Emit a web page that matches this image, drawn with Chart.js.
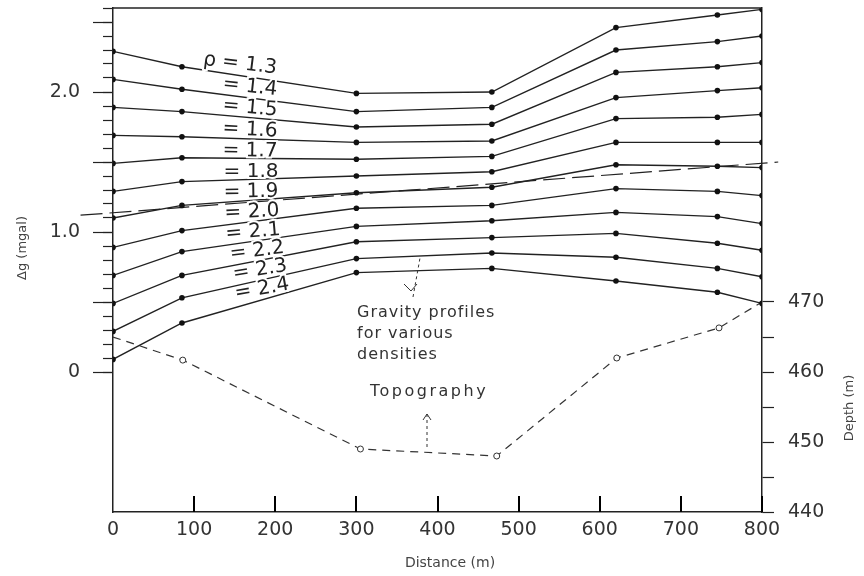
<!DOCTYPE html>
<html>
<head>
<meta charset="utf-8">
<script src="https://cdn.jsdelivr.net/npm/chart.js@4.4.1/dist/chart.umd.min.js"></script>
<style>
  html, body { margin: 0; padding: 0; background: #fff; }
  #wrap { width: 864px; height: 576px; }
</style>
</head>
<body>
<div id="wrap"><canvas id="perfiles"></canvas></div>
<script>
// distancia de las estaciones (m)
const distancia = [0, 85, 300, 467, 620, 745, 800];

// perfiles de gravedad (mgal), uno por densidad
const rho13 = [2.29, 2.18, 1.99, 2.00, 2.46, 2.55, 2.59];
const rho14 = [2.09, 2.02, 1.86, 1.89, 2.30, 2.36, 2.40];
const rho15 = [1.89, 1.86, 1.75, 1.77, 2.14, 2.18, 2.21];
const rho16 = [1.69, 1.68, 1.64, 1.65, 1.96, 2.01, 2.03];
const rho17 = [1.49, 1.53, 1.52, 1.54, 1.81, 1.82, 1.84];
const rho18 = [1.29, 1.36, 1.40, 1.43, 1.64, 1.64, 1.64];
const rho19 = [1.10, 1.19, 1.28, 1.32, 1.48, 1.47, 1.46];
const rho20 = [0.89, 1.01, 1.17, 1.19, 1.31, 1.29, 1.26];
const rho21 = [0.69, 0.86, 1.04, 1.08, 1.14, 1.11, 1.06];
const rho22 = [0.49, 0.69, 0.93, 0.96, 0.99, 0.92, 0.87];
const rho23 = [0.29, 0.53, 0.81, 0.85, 0.82, 0.74, 0.68];
const rho24 = [0.09, 0.35, 0.71, 0.74, 0.65, 0.57, 0.49];
const perfiles = [rho13, rho14, rho15, rho16, rho17, rho18, rho19, rho20, rho21, rho22, rho23, rho24];
const densidades = ['ρ = 1.3', '= 1.4', '= 1.5', '= 1.6', '= 1.7', '= 1.8', '= 1.9', '= 2.0', '= 2.1', '= 2.2', '= 2.3', '= 2.4'];

// topografia (profundidad, m)
const distTopo = [0, 86, 305, 473, 621, 747, 800];
const topografia = [465, 461.7, 449, 448, 462, 466.3, 470];

// linea regional
const distRegional = [-40, 820];
const gRegional = [1.12, 1.5];

// etiquetas de los ejes
const ticksDist = [100, 200, 300, 400, 500, 600, 700, 800];
const ticksG = [0, 1, 2];
const ticksProf = [440, 450, 460, 470];

// posicion (px) y giro de cada etiqueta de densidad
const posDensidad = [[240, 64, 7], [250, 87, 6], [250, 108, 5], [250, 130, 3], [250, 151, 1], [251, 172, 0],
  [251, 192, -1], [252, 212, -3], [253, 232, -5], [257, 251, -7], [260, 270, -9], [262, 289, -10]];

const tinta = '#222';
const fuente = 'DejaVu Sans';

const datasets = perfiles.map((p, i) => ({
  label: densidades[i],
  data: p.map((v, j) => ({ x: distancia[j], y: v })),
  borderColor: tinta,
  borderWidth: 1.4,
  pointRadius: 2.8,
  pointBackgroundColor: '#111',
  pointBorderWidth: 0,
  yAxisID: 'y'
}));

datasets.push({
  label: 'regional',
  data: distRegional.map((d, j) => ({ x: d, y: gRegional[j] })),
  borderColor: tinta,
  borderWidth: 1.2,
  borderDash: [22, 7],
  pointRadius: 0,
  clip: false,
  yAxisID: 'y'
});

datasets.push({
  label: 'Topography',
  data: distTopo.map((d, j) => ({ x: d, y: topografia[j] })),
  borderColor: '#333',
  borderWidth: 1.2,
  borderDash: [8, 6],
  pointRadius: [0, 3, 3, 3, 3, 3, 0],
  pointBackgroundColor: '#fff',
  pointBorderColor: '#333',
  pointBorderWidth: 1,
  yAxisID: 'y2'
});

// sin relleno extra de chart.js alrededor del area
function fijar(s, ancho, alto) {
  if (ancho) s.width = ancho;
  if (alto) s.height = alto;
  s.paddingTop = 0;
  s.paddingBottom = 0;
  s.paddingLeft = 0;
  s.paddingRight = 0;
}

// textos, marcas y borde superior
const extras = {
  id: 'extras',
  afterDraw(chart) {
    const ctx = chart.ctx;
    const a = chart.chartArea;
    const x = chart.scales.x;
    const y = chart.scales.y;
    ctx.save();
    ctx.strokeStyle = tinta;
    ctx.lineWidth = 1.5;
    ctx.beginPath();
    ctx.moveTo(a.left, a.top);
    ctx.lineTo(a.right, a.top);
    ctx.stroke();

    // marcas del eje x hacia dentro
    ctx.strokeStyle = '#000';
    ctx.lineWidth = 2;
    ticksDist.forEach(d => {
      const px = Math.round(x.getPixelForValue(d));
      ctx.beginPath();
      ctx.moveTo(px, a.bottom);
      ctx.lineTo(px, a.bottom - 16);
      ctx.stroke();
    });

    // marcas largas cada 0.5
    ctx.strokeStyle = tinta;
    ctx.lineWidth = 1.2;
    for (let v = 0; v <= 2.5001; v += 0.5) {
      const py = Math.round(y.getPixelForValue(v)) + 0.5;
      ctx.beginPath();
      ctx.moveTo(a.left - 20, py);
      ctx.lineTo(a.left, py);
      ctx.stroke();
    }

    // etiquetas de densidad
    ctx.font = '20px "' + fuente + '"';
    ctx.textAlign = 'center';
    ctx.textBaseline = 'middle';
    densidades.forEach((t, i) => {
      const [px, py, ang] = posDensidad[i];
      ctx.save();
      ctx.translate(px, py);
      ctx.rotate(ang * Math.PI / 180);
      ctx.lineWidth = 4;
      ctx.strokeStyle = '#fff';
      ctx.strokeText(t, 0, 0);
      ctx.fillStyle = '#222';
      ctx.fillText(t, 0, 0);
      ctx.restore();
    });

    // anotaciones
    ctx.fillStyle = '#333';
    ctx.textAlign = 'left';
    ctx.font = '16px "' + fuente + '"';
    ctx.letterSpacing = '1px';
    ctx.fillText('Gravity profiles', 357, 313);
    ctx.fillText('for various', 357, 334);
    ctx.fillText('densities', 357, 355);
    ctx.letterSpacing = '2.5px';
    ctx.fillText('Topography', 370, 392);
    ctx.letterSpacing = '0px';

    // flechas
    ctx.strokeStyle = '#333';
    ctx.lineWidth = 1;
    ctx.setLineDash([3, 3]);
    ctx.beginPath();
    ctx.moveTo(413, 297);
    ctx.lineTo(420, 258);
    ctx.moveTo(427, 414);
    ctx.lineTo(427, 450);
    ctx.stroke();
    ctx.setLineDash([]);
    ctx.beginPath();
    ctx.moveTo(404, 284); ctx.lineTo(411, 291); ctx.lineTo(417, 284);
    ctx.moveTo(423, 420); ctx.lineTo(427, 414); ctx.lineTo(431, 420);
    ctx.stroke();

    // titulos de los ejes
    ctx.fillStyle = '#444';
    ctx.textAlign = 'center';
    ctx.font = '14px "' + fuente + '"';
    ctx.fillText('Distance (m)', 450, 563);
    ctx.font = '13px "' + fuente + '"';
    ctx.save();
    ctx.translate(23, 248);
    ctx.rotate(-Math.PI / 2);
    ctx.fillText('Δg (mgal)', 0, 0);
    ctx.restore();
    ctx.save();
    ctx.translate(850, 408);
    ctx.rotate(-Math.PI / 2);
    ctx.fillText('Depth (m)', 0, 0);
    ctx.restore();
    ctx.restore();
  }
};

new Chart(document.getElementById('perfiles'), {
  type: 'line',
  data: { datasets: datasets },
  options: {
    responsive: true,
    maintainAspectRatio: false,
    animation: false,
    layout: { padding: { top: 8, left: 0, right: 0, bottom: 0 } },
    plugins: { legend: { display: false }, tooltip: { enabled: false } },
    scales: {
      x: {
        type: 'linear',
        position: 'bottom',
        min: 0,
        max: 800,
        afterFit: (s) => fijar(s, 0, 64),
        ticks: { stepSize: 100, autoSkip: false, maxRotation: 0, padding: 7, color: '#333', font: { family: fuente, size: 19 } },
        grid: { drawOnChartArea: false, drawTicks: false },
        border: { color: tinta, width: 1.5 }
      },
      y: {
        type: 'linear',
        position: 'left',
        min: -1,
        max: 2.6,
        afterFit: (s) => fijar(s, 113, 0),
        ticks: {
          stepSize: 0.1,
          autoSkip: false,
          padding: 23,
          color: '#333',
          font: { family: fuente, size: 19 },
          callback: (v) => {
            const t = ticksG.find(g => Math.abs(g - v) < 1e-6);
            return t === undefined ? '' : (t === 0 ? '0' : t.toFixed(1));
          }
        },
        grid: {
          drawOnChartArea: false,
          tickLength: 10,
          tickWidth: 1.2,
          tickColor: (c) => (c.tick && c.tick.value < -1e-6) ? 'rgba(0,0,0,0)' : tinta
        },
        border: { color: tinta, width: 1.5 }
      },
      y2: {
        type: 'linear',
        position: 'right',
        min: 440,
        max: 512,
        afterFit: (s) => fijar(s, 102, 0),
        ticks: {
          stepSize: 5,
          autoSkip: false,
          padding: 14,
          color: '#333',
          font: { family: fuente, size: 19 },
          callback: (v) => ticksProf.includes(v) ? String(v) : ''
        },
        grid: {
          drawOnChartArea: false,
          tickLength: 12,
          tickWidth: 1.2,
          tickColor: (c) => (c.tick && c.tick.value > 470) ? 'rgba(0,0,0,0)' : tinta
        },
        border: { color: tinta, width: 1.5 }
      }
    }
  },
  plugins: [extras]
});
</script>
</body>
</html>
